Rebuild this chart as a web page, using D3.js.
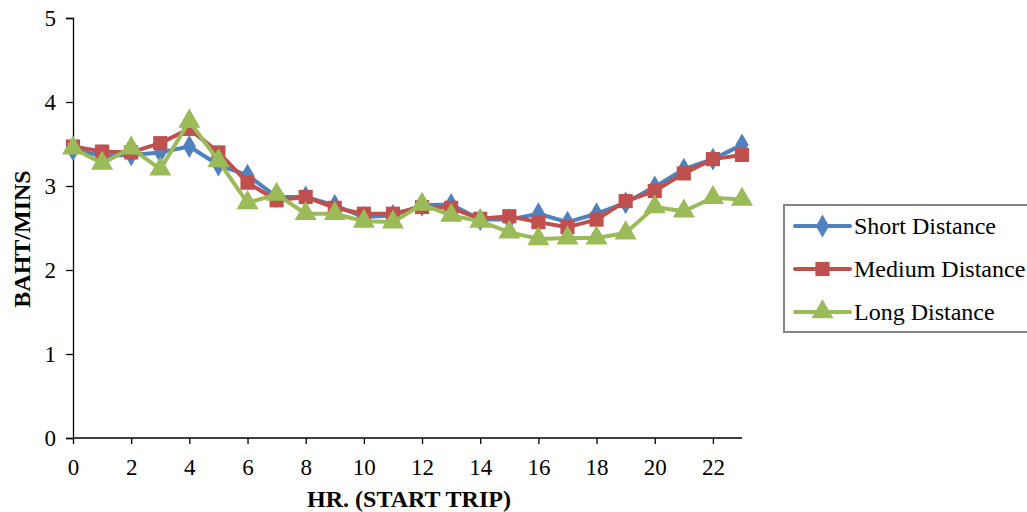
<!DOCTYPE html>
<html>
<head>
<meta charset="utf-8">
<script src="https://cdn.jsdelivr.net/npm/d3@7"></script>
<style>
  body { margin: 0; background: #fff; }
  svg text { font-family: "Liberation Serif", "Times New Roman", serif; fill: #000; }
</style>
</head>
<body>
<div id="chart"></div>
<script>
const hours = d3.range(0, 24);
const shortDistance = [3.43, 3.36, 3.37, 3.40, 3.47, 3.25, 3.13, 2.87, 2.87, 2.77, 2.63, 2.65, 2.77, 2.78, 2.60, 2.60, 2.67, 2.57, 2.67, 2.80, 2.99, 3.20, 3.32, 3.49];
const mediumDistance = [3.47, 3.41, 3.40, 3.51, 3.68, 3.40, 3.04, 2.83, 2.87, 2.74, 2.67, 2.67, 2.75, 2.74, 2.61, 2.64, 2.57, 2.51, 2.60, 2.82, 2.94, 3.15, 3.32, 3.37];
const longDistance = [3.45, 3.27, 3.45, 3.20, 3.77, 3.30, 2.80, 2.90, 2.67, 2.67, 2.58, 2.57, 2.78, 2.65, 2.58, 2.45, 2.37, 2.38, 2.38, 2.44, 2.75, 2.70, 2.86, 2.84];
const seriesNames = ["Short Distance", "Medium Distance", "Long Distance"];
const seriesColors = ["#4F81BD", "#C0504D", "#9BBB59"];
const yTicks = [0, 1, 2, 3, 4, 5];
const xTicks = d3.range(0, 23, 2);

const width = 1027, height = 512;
const margin = { left: 73, top: 18, right: 285, bottom: 74 };

const svg = d3.select("#chart").append("svg")
  .attr("width", width).attr("height", height);

const x = d3.scaleLinear().domain([0, 23]).range([margin.left, width - margin.right]);
const y = d3.scaleLinear().domain([0, 5]).range([height - margin.bottom, margin.top]);

// axes
const yAxis = svg.append("g")
  .attr("transform", `translate(${margin.left},0)`)
  .call(d3.axisLeft(y).tickValues(yTicks).tickFormat(d3.format("d")).tickSize(7).tickPadding(10));
const xAxis = svg.append("g")
  .attr("transform", `translate(0,${y(0)})`)
  .call(d3.axisBottom(x).tickValues(xTicks).tickFormat(d3.format("d")).tickSize(6).tickPadding(15));

[yAxis, xAxis].forEach(g => {
  g.attr("font-family", null).attr("font-size", null);
  g.select(".domain").attr("stroke", "#000").attr("stroke-width", 1.3);
  g.selectAll(".tick line").attr("stroke", "#000").attr("stroke-width", 1.3);
  g.selectAll(".tick text")
    .style("font-size", "23px").attr("fill", "#000");
});
// extend x axis domain to the last hour
xAxis.select(".domain").attr("d", `M${margin.left},0H${x(23)}`);

svg.append("text")
  .attr("x", 409).attr("y", 507)
  .attr("text-anchor", "middle")
  .style("font-size", "24px").style("font-weight", "bold")
  .text("HR. (START TRIP)");

svg.append("text")
  .attr("transform", `translate(30,${y(2.5) + 11}) rotate(-90)`)
  .attr("text-anchor", "middle")
  .style("font-size", "24px").style("font-weight", "bold")
  .text("BAHT/MINS");

// series
const allSeries = [shortDistance, mediumDistance, longDistance];
const symbols = [d3.symbolDiamond, d3.symbolSquare, d3.symbolTriangle];
const symbolSizes = [150, 200, 210];

const line = d3.line().x((d, i) => x(hours[i])).y(d => y(d));

allSeries.forEach((data, s) => {
  const g = svg.append("g");
  g.append("path")
    .datum(data)
    .attr("d", line)
    .attr("fill", "none")
    .attr("stroke", seriesColors[s])
    .attr("stroke-width", 4)
    .attr("stroke-linejoin", "round");
  g.selectAll("path.m")
    .data(data)
    .join("path")
    .attr("class", "m")
    .attr("d", d3.symbol().type(symbols[s]).size(symbolSizes[s]))
    .attr("transform", (d, i) => `translate(${x(hours[i])},${y(d)})`)
    .attr("fill", seriesColors[s]);
});

// legend
const legend = svg.append("g").attr("transform", "translate(784,205)");
legend.append("rect")
  .attr("width", 250).attr("height", 127)
  .attr("fill", "#fff").attr("stroke", "#868686").attr("stroke-width", 2);

seriesNames.forEach((name, s) => {
  const rowY = 21 + s * 43;
  legend.append("line")
    .attr("x1", 11).attr("x2", 66).attr("y1", rowY).attr("y2", rowY)
    .attr("stroke", seriesColors[s]).attr("stroke-width", 4)
    .attr("stroke-linecap", "round");
  legend.append("path")
    .attr("d", d3.symbol().type(symbols[s]).size(symbolSizes[s]))
    .attr("transform", `translate(38.5,${rowY})`)
    .attr("fill", seriesColors[s]);
  legend.append("text")
    .attr("x", 70).attr("y", rowY + 8)
    .style("font-size", "24px")
    .text(name);
});
</script>
</body>
</html>
